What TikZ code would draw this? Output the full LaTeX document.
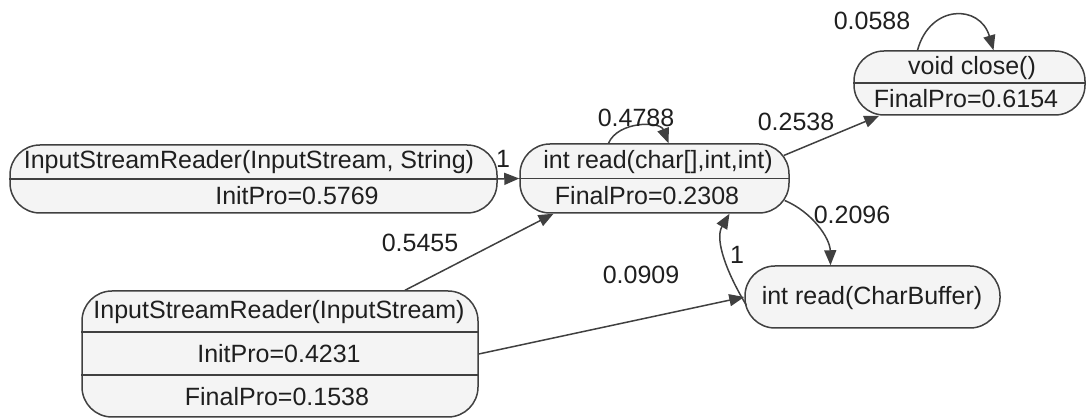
\documentclass[tikz,border=0pt]{standalone}
\usepackage{fontspec}
\setmainfont{Liberation Sans}
\usetikzlibrary{arrows.meta}
\definecolor{ink}{HTML}{404040}
\definecolor{boxfill}{HTML}{F4F4F4}

\begin{document}
\begin{tikzpicture}[x=1pt,y=-1pt,
  font=\fontsize{25}{29}\selectfont,
  state/.style={draw=ink, line width=1.5pt, fill=boxfill, rounded corners=30pt, inner sep=0pt},
  divider/.style={draw=ink, line width=1.5pt},
  txt/.style={inner sep=0pt, text=black!88},
  edge/.style={draw=ink, line width=1.5pt, -{Triangle[length=15pt,width=12pt]}},
  lbl/.style={inner sep=0pt, text=black!88}]

\useasboundingbox (0,0) rectangle (1087,419);

% state boxes
\node[state, minimum width=487pt, minimum height=68pt]  (A) at (253.5,179)   {};
\node[state, minimum width=269pt, minimum height=69pt]  (B) at (654.5,178.5) {};
\node[state, minimum width=231pt, minimum height=64pt]  (C) at (969.5,83)    {};
\node[state, minimum width=396pt, minimum height=126pt] (D) at (280,354)     {};
\node[state, minimum width=255pt, minimum height=62pt]  (E) at (872.5,297)   {};

% compartment lines
\draw[divider] (A.west) -- (A.east);
\draw[divider] (B.west) -- (B.east);
\draw[divider] (C.west) -- (C.east);
\draw[divider] (D.west |- 0,332) -- (D.east |- 0,332);
\draw[divider] (D.west |- 0,375) -- (D.east |- 0,375);

% compartment texts
\node[txt] (A1) at (249,162) {InputStreamReader(InputStream, String)};
\node[txt] (A2) at (297,196) {InitPro=0.5769};
\node[txt] (B1) at (658,162) {int read(char[],int,int)};
\node[txt] (B2) at (647,196) {FinalPro=0.2308};
\node[txt] (C1) at (972,68)  {void close()};
\node[txt] (C2) at (966,99)  {FinalPro=0.6154};
\node[txt] (D1) at (279,312) {InputStreamReader(InputStream)};
\node[txt] (D2) at (279,354) {InitPro=0.4231};
\node[txt] (D3) at (277,397) {FinalPro=0.1538};
\node[txt] (E1) at (872,298) {int read(CharBuffer)};

% transitions
\draw[edge] (A.east) -- (B.west);
\draw[edge] ([xshift=125pt]D.north) -- ([xshift=-101pt]B.south);
\draw[edge] (D.east) -- (E.west);
\draw[edge] ([xshift=-46pt]B.north) .. controls (618,121) and (660,121) .. ([xshift=14pt]B.north);
\draw[edge] ([xshift=-6pt,yshift=23pt]B.east) -- ([xshift=26pt]C.south west);
\draw[edge] ([xshift=-5pt,yshift=-22pt]B.east) .. controls (812,212) and (830,238) .. ([xshift=-42pt]E.north);
\draw[edge] ([xshift=2pt,yshift=-8pt]E.west) .. controls (728,275) and (714,240) .. ([xshift=75pt]B.south);
\draw[edge] ([xshift=-52pt]C.north) .. controls (930,4) and (980,4) .. ([xshift=24pt]C.north);

% transition probabilities
\node[lbl] (l1) at (503,159) {1};
\node[lbl] (l2) at (420,243) {0.5455};
\node[lbl] (l3) at (641,275) {0.0909};
\node[lbl] (l4) at (636,118) {0.4788};
\node[lbl] (l5) at (796,122) {0.2538};
\node[lbl] (l6) at (852,215) {0.2096};
\node[lbl] (l7) at (737,255) {1};
\node[lbl] (l8) at (872,21)  {0.0588};

\end{tikzpicture}
\end{document}
